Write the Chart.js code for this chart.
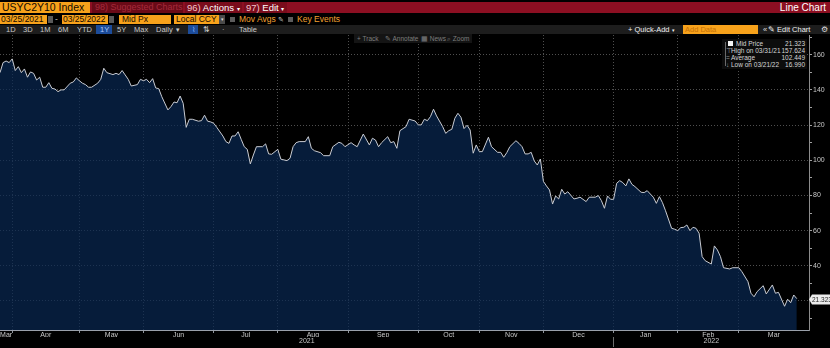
<!DOCTYPE html>
<html>
<head>
<meta charset="utf-8">
<title>USYC2Y10 Index</title>
<script src="https://cdn.jsdelivr.net/npm/chart.js@4/dist/chart.umd.min.js"></script>
<style>
  html, body { margin: 0; padding: 0; background: #000; width: 830px; height: 348px; overflow: hidden; }
  body { position: relative; font-family: "Liberation Sans", Arial, sans-serif; }
  .t { position: absolute; white-space: nowrap; box-sizing: border-box; }
  .ob { background: #f7a21b; color: #140a00; }
  .r3 { top: 26px; font-size: 7.5px; line-height: 8px; color: #c9c9c9; }
  .tool { top: 35px; font-size: 6.5px; line-height: 7px; color: #7d7d7d; }
  #legendBox { left: 722px; top: 39px; width: 85px; height: 30px; background: #0c0c0c; }
  #legendBox .t { font-size: 6.5px; line-height: 7px; color: #d6d6d6; }
  #legendBox .v { right: 2px; text-align: right; }
  canvas { position: absolute; left: 0; top: 35px; }
</style>
</head>
<body>

<!-- title bar -->
<div class="t" style="left:0;top:2px;width:830px;height:11px;background:#8c0f22"></div>
<div class="t ob" style="left:0;top:2px;width:90px;height:11px;font-size:10.5px;line-height:11px;padding-left:2px">USYC2Y10 Index</div>
<div class="t" style="left:92px;top:2px;width:91px;height:11px;background:#6a0a17;color:#a52a3c;font-size:9px;line-height:11px;padding-left:3px">98) Suggested Charts</div>
<div class="t" style="left:185px;top:2px;width:57px;height:11px;background:#7a0c1c;color:#fff;font-size:9.5px;line-height:11px;padding-left:2px"><span style="color:#f3c6cc">96)</span> Actions <span style="font-size:6px">▾</span></div>
<div class="t" style="left:244px;top:2px;width:43px;height:11px;background:#7a0c1c;color:#fff;font-size:9.5px;line-height:11px;padding-left:2px"><span style="color:#f3c6cc">97)</span> Edit <span style="font-size:6px">▾</span></div>
<div class="t" style="right:4px;top:2px;color:#fff;font-size:10px;line-height:11px">Line Chart</div>

<!-- date / field row -->
<div class="t ob" style="left:0;top:15px;width:47px;height:9px;font-size:8.5px;line-height:9px;padding-left:1px">03/25/2021</div>
<div class="t" style="left:48px;top:16px;width:5px;height:7px;background:#5a5a5a"></div>
<div class="t" style="left:55px;top:15px;color:#bbb;font-size:8.5px;line-height:9px">-</div>
<div class="t ob" style="left:62px;top:15px;width:46px;height:9px;font-size:8.5px;line-height:9px;padding-left:1px">03/25/2022</div>
<div class="t" style="left:109px;top:16px;width:5px;height:7px;background:#5a5a5a"></div>
<div class="t ob" style="left:119px;top:15px;width:52px;height:9px;font-size:8.5px;line-height:9px;padding-left:3px">Mid Px</div>
<div class="t ob" style="left:174px;top:15px;width:45px;height:9px;font-size:8.5px;line-height:9px;padding-left:2px">Local CCY</div>
<div class="t" style="left:219px;top:15px;width:6px;height:9px;background:#4a4a4a;color:#ddd;font-size:5px;line-height:9px;text-align:center">▾</div>
<div class="t" style="left:230px;top:17px;width:5px;height:5px;background:#5c5c5c"></div>
<div class="t" style="left:239px;top:15px;color:#f2a030;font-size:8.5px;line-height:9px">Mov Avgs <span style="color:#c8c8c8;font-size:7px">✎</span></div>
<div class="t" style="left:288px;top:17px;width:5px;height:5px;background:#5c5c5c"></div>
<div class="t" style="left:297px;top:15px;color:#f2a030;font-size:8.5px;line-height:9px">Key Events</div>

<!-- range / toolbar row -->
<div class="t" style="left:0;top:25px;width:830px;height:9px;background:#1d1d1d"></div>
<div class="t r3" style="left:6px">1D</div>
<div class="t r3" style="left:23px">3D</div>
<div class="t r3" style="left:40px">1M</div>
<div class="t r3" style="left:58px">6M</div>
<div class="t r3" style="left:77px">YTD</div>
<div class="t" style="left:96px;top:25px;width:16px;height:9px;background:#1c4c9a"></div>
<div class="t r3" style="left:100px;color:#a9c8ff">1Y</div>
<div class="t r3" style="left:117px">5Y</div>
<div class="t r3" style="left:134px">Max</div>
<div class="t r3" style="left:156px">Daily <span style="font-size:6px">▼</span></div>
<div class="t" style="left:188px;top:25px;width:10px;height:9px;background:#1c4c9a;color:#8fb8ff;font-size:7px;line-height:9px;text-align:center">⌇</div>
<div class="t r3" style="left:203px">⇅</div>
<div class="t r3" style="left:222px">·</div>
<div class="t r3" style="left:239px">Table</div>
<div class="t r3" style="left:628px;color:#f0f0f0">+ Quick-Add <span style="font-size:5px">▾</span></div>
<div class="t ob" style="left:683px;top:25px;width:75px;height:9px;font-size:7.5px;line-height:9px;padding-left:2px;color:#c47008">Add Data</div>
<div class="t r3" style="left:763px;color:#ddd">«</div>
<div class="t r3" style="left:768px;color:#f0f0f0">✎ Edit Chart</div>
<div class="t r3" style="left:821px;color:#ddd">⚙</div>

<canvas id="lineChart" width="830" height="313"></canvas>

<!-- chart tools strip -->
<div class="t" style="left:354px;top:34px;width:118px;height:9px;background:#141414"></div>
<div class="t tool" style="left:357px">+ Track</div>
<div class="t tool" style="left:385px">✎ Annotate</div>
<div class="t tool" style="left:421px">▦ News</div>
<div class="t tool" style="left:447px">⌕ Zoom</div>

<!-- price legend -->
<div id="legendBox" class="t">
  <div class="t" style="left:3px;top:3px;width:1px;height:24px;background:#6a6a6a"></div>
  <div class="t" style="left:6px;top:2px;width:5px;height:5px;background:#f4f4f4"></div>
  <div class="t" style="left:14px;top:1px">Mid Price</div>
  <div class="t v" id="vLast" style="top:1px"></div>
  <div class="t" style="left:4px;top:8px;color:#9a9a9a">⊤</div>
  <div class="t" style="left:9px;top:8px" id="nHigh"></div>
  <div class="t v" id="vHigh" style="top:8px"></div>
  <div class="t" style="left:4px;top:15px;color:#9a9a9a">=</div>
  <div class="t" style="left:9px;top:15px">Average</div>
  <div class="t v" id="vAvg" style="top:15px"></div>
  <div class="t" style="left:4px;top:22px;color:#9a9a9a">↓</div>
  <div class="t" style="left:9px;top:22px" id="nLow"></div>
  <div class="t v" id="vLow" style="top:22px"></div>
</div>

<script>
'use strict';

// Trading-day index (0 = 03/25/2021) and the mid price on that day
var tradeDay = [0, 1, 2, 3, 4, 5, 6, 7, 8, 9, 10, 11, 12, 13, 14, 15, 16, 17, 18, 19, 20, 21, 23, 24, 25, 26, 27, 28, 29, 30,
    32, 33, 34, 35, 37, 38, 39, 40, 41, 42, 43, 45, 46, 47, 48, 49, 50, 51, 52, 53, 55, 56, 57, 58, 59, 60, 61, 62, 63,
    65, 66, 67, 68, 69, 70, 71, 73, 74, 75, 76, 77, 78, 79, 80, 81, 82, 83, 84, 86, 87, 88, 89, 91, 92, 94, 95, 96, 97, 98,
    100, 101, 102, 103, 105, 106, 108, 109, 111, 112, 113, 115, 116, 117, 119, 121, 122, 123, 124, 125, 127, 128, 129, 130,
    131, 133, 134, 136, 137, 138, 139, 140, 141, 142, 143, 145, 146, 147, 148, 149, 150, 151, 152, 153, 154, 155, 156, 157,
    158, 160, 161, 163, 164, 165, 166, 167, 169, 170, 171, 172, 173, 174, 175, 176, 177, 178, 179, 180, 181, 182, 183, 184,
    185, 186, 188, 189, 190, 192, 193, 195, 196, 197, 198, 199, 200, 201, 202, 203, 204, 205, 206, 207, 208, 210, 211, 212,
    214, 215, 216, 217, 218, 220, 221, 222, 223, 224, 225, 226, 227, 228, 229, 230, 231, 233, 234, 235, 236, 237, 239, 240,
    242, 243, 245, 246, 247, 248, 250, 251, 253, 254, 255, 257, 258, 259, 260, 261];

var midPx = [149.8, 155.5, 156.4, 155.5, 157.624, 151, 153.2, 149.8, 151.9, 147.2, 150.2, 149.4, 145.6, 147.2, 141.5, 141.5,
    144.1, 140.9, 140.5, 139, 140, 140, 143.8, 144.5, 146.8, 145.2, 143.8, 143, 141.5, 141.5,
    143.8, 146, 152.3, 149.8, 148.7, 149.4, 148.7, 151, 148.5, 146, 142.2, 143, 146, 145.2, 146, 144.1, 146.4, 141.1, 140.7,
    136.1, 128.6, 130.5, 133.1, 132.7, 136.5, 132.4, 118.7, 123.3, 123.3,
    122.2, 122.5, 125.6, 122.2, 121.8, 121, 118.7, 113.8, 110.6, 109.6, 113.8, 113.8, 116.2, 111.9, 107.7, 106.2, 97.9, 103,
    107.7, 107.7, 109.3, 103.6, 103.4, 106.2, 100.6, 99.8, 101.1, 107.7, 110, 110.6,
    110.6, 113.4, 106.8, 105.4, 104.3, 102.6, 102.6, 107.7, 110.2, 109.6, 107.7, 110, 108.7, 107.7, 114.9, 108.7, 112.5,
    111.5, 107.7, 110, 113.4, 110, 110.6, 106.8,
    116.8, 119.1, 123.3, 122.3, 120.1, 120.1, 123.3, 122.5, 124.8, 129, 125.2, 119.1, 115.3, 116.8, 117.6, 123.9, 126.7,
    124.4, 118, 119.9, 117.2, 104, 108.7, 104.9,
    104.9, 113.1, 107.7, 104.5, 104.5, 101.7, 104.3, 107.7, 111.1, 109.6, 107.7, 103.6, 103.6, 104.5, 99.6, 97.3, 100.7,
    88, 85.4, 83.1, 75.1, 79.7, 78, 83.5,
    80.8, 82.1, 78, 78.4, 79, 76.5, 79, 79, 79.9, 77, 72.7, 79.7, 77.8, 77.8, 86.9, 88.4, 87.3, 85.4, 89.4, 86.3, 85, 81.8,
    81.6, 82.7,
    79, 75.5, 79.3, 75.9, 71.3, 61.3, 60.8, 60, 61.7, 61.9, 63.2, 60, 61.9, 61.3, 58.5, 45.2, 42.9, 41, 51.3, 49, 45.2,
    38.9, 38.2, 38.9,
    38.9, 36.7, 31, 24.4, 22.4, 25.3, 28.7, 24, 29.1, 24.4, 24.9, 16.99, 21, 19, 23.4, 21.323];

// Month boundaries on the trading-day axis, and month / year captions
var monthStarts = [4, 26, 47, 70, 91, 114, 137, 157, 178, 201, 222, 242];
var monthNames = ['Mar', 'Apr', 'May', 'Jun', 'Jul', 'Aug', 'Sep', 'Oct', 'Nov', 'Dec', 'Jan', 'Feb', 'Mar'];
var yearBreak = 201;
var yearNames = ['2021', '2022'];
var xEnd = 265;

// Price axis: labelled levels and minor marks
var yLabels = [20, 40, 60, 80, 100, 120, 140, 160];
var yMinor = [10, 30, 50, 70, 90, 110, 130, 150, 170];
var yMin = 3.5, yMax = 171.2;

// Legend statistics
var statDates = ['03/31/21', '03/21/22'];
var averageValue = 102.449;

var lineColor = '#c9ccd3';
var fillColor = 'rgba(8, 40, 82, 0.7)';
var gridColor = '#4f4f4f';
var labelColor = '#c8c8c8';
var axisFont = { family: 'Liberation Sans', size: 7 };

var lastValue = midPx[midPx.length - 1];
var highValue = Math.max.apply(null, midPx);
var lowValue = Math.min.apply(null, midPx);

document.getElementById('vLast').textContent = lastValue.toFixed(3);
document.getElementById('nHigh').textContent = 'High on ' + statDates[0];
document.getElementById('vHigh').textContent = highValue.toFixed(3);
document.getElementById('vAvg').textContent = averageValue.toFixed(3);
document.getElementById('nLow').textContent = 'Low on ' + statDates[1];
document.getElementById('vLow').textContent = lowValue.toFixed(3);

// midpoints of each month span, used to centre the month captions
var bounds = [0].concat(monthStarts, [xEnd]);
var monthMids = [];
for (var i = 0; i < bounds.length - 1; i++) {
    monthMids.push((bounds[i] + bounds[i + 1]) / 2);
}
var yearTicks = [yearBreak / 2, yearBreak, (yearBreak + xEnd) / 2];

// white tag with the last price on the right axis
var lastTag = {
    id: 'lastTag',
    afterDraw: function (chart) {
        var ctx = chart.ctx;
        var y = Math.round(chart.scales.y.getPixelForValue(lastValue)) + 0.5;
        var x = chart.scales.y.left;
        ctx.save();
        ctx.fillStyle = '#ececec';
        ctx.beginPath();
        ctx.moveTo(x, y);
        ctx.lineTo(x + 3, y - 5);
        ctx.lineTo(chart.width, y - 5);
        ctx.lineTo(chart.width, y + 5);
        ctx.lineTo(x + 3, y + 5);
        ctx.closePath();
        ctx.fill();
        ctx.fillStyle = '#1e1e1e';
        ctx.font = '6.5px "Liberation Sans"';
        ctx.textBaseline = 'middle';
        ctx.fillText(lastValue.toFixed(3), x + 3, y + 0.5);
        ctx.restore();
    }
};

var LINECHART = document.getElementById('lineChart');
var myLineChart = new Chart(LINECHART, {
    type: 'line',
    data: {
        datasets: [{
            label: 'Mid Price',
            data: tradeDay.map(function (d, k) { return { x: d, y: midPx[k] }; }),
            borderColor: lineColor,
            borderWidth: 1,
            backgroundColor: fillColor,
            fill: 'start',
            pointRadius: 0,
            tension: 0
        }]
    },
    options: {
        responsive: false,
        animation: false,
        devicePixelRatio: 1,
        layout: { padding: 0 },
        plugins: {
            legend: { display: false },
            tooltip: { enabled: false }
        },
        scales: {
            x: {
                type: 'linear',
                position: 'bottom',
                weight: 0,
                min: 0,
                max: xEnd,
                afterBuildTicks: function (s) { s.ticks = monthStarts.map(function (v) { return { value: v }; }); },
                afterFit: function (s) { s.height = 0; s.paddingLeft = 0; s.paddingRight = 0; },
                ticks: { display: false },
                grid: { color: gridColor, tickColor: '#8f949c', tickLength: 3 },
                border: { color: '#9aa0aa', dash: [1, 2] }
            },
            months: {
                type: 'linear',
                axis: 'x',
                position: 'bottom',
                weight: 1,
                min: 0,
                max: xEnd,
                afterBuildTicks: function (s) { s.ticks = monthMids.map(function (v) { return { value: v }; }); },
                afterFit: function (s) { s.height = 7; s.paddingLeft = 0; s.paddingRight = 0; },
                ticks: {
                    autoSkip: false,
                    maxRotation: 0,
                    padding: 1,
                    color: labelColor,
                    font: axisFont,
                    callback: function (v, idx) { return monthNames[idx]; }
                },
                grid: { display: false, drawTicks: false },
                border: { display: false }
            },
            years: {
                type: 'linear',
                axis: 'x',
                position: 'bottom',
                weight: 2,
                min: 0,
                max: xEnd,
                afterBuildTicks: function (s) { s.ticks = yearTicks.map(function (v) { return { value: v }; }); },
                afterFit: function (s) { s.height = 11; s.paddingLeft = 0; s.paddingRight = 0; },
                ticks: {
                    autoSkip: false,
                    maxRotation: 0,
                    padding: -10,
                    color: labelColor,
                    font: axisFont,
                    callback: function (v, idx) { return idx === 0 ? yearNames[0] : (idx === 2 ? yearNames[1] : ''); }
                },
                grid: {
                    drawOnChartArea: false,
                    tickLength: 10,
                    tickColor: function (c) { return c.tick && c.tick.value === yearBreak ? '#6c6c6c' : 'rgba(0,0,0,0)'; }
                },
                border: { display: false }
            },
            y: {
                type: 'linear',
                position: 'right',
                min: yMin,
                max: yMax,
                afterBuildTicks: function (s) {
                    s.ticks = yLabels.concat(yMinor).sort(function (a, b) { return a - b; })
                        .map(function (v) { return { value: v }; });
                },
                afterFit: function (s) { s.width = 21; s.paddingTop = 0; s.paddingBottom = 0; },
                ticks: {
                    padding: 1,
                    color: labelColor,
                    font: axisFont,
                    callback: function (v) { return yLabels.indexOf(v) >= 0 ? String(v) : ''; }
                },
                grid: {
                    color: function (c) { return c.tick && yLabels.indexOf(c.tick.value) >= 0 ? gridColor : 'rgba(0,0,0,0)'; },
                    tickColor: '#a0a0a0',
                    tickLength: 3
                },
                border: { color: '#8c8c8c', dash: [1, 2] }
            }
        }
    },
    plugins: [lastTag]
});
</script>
</body>
</html>
